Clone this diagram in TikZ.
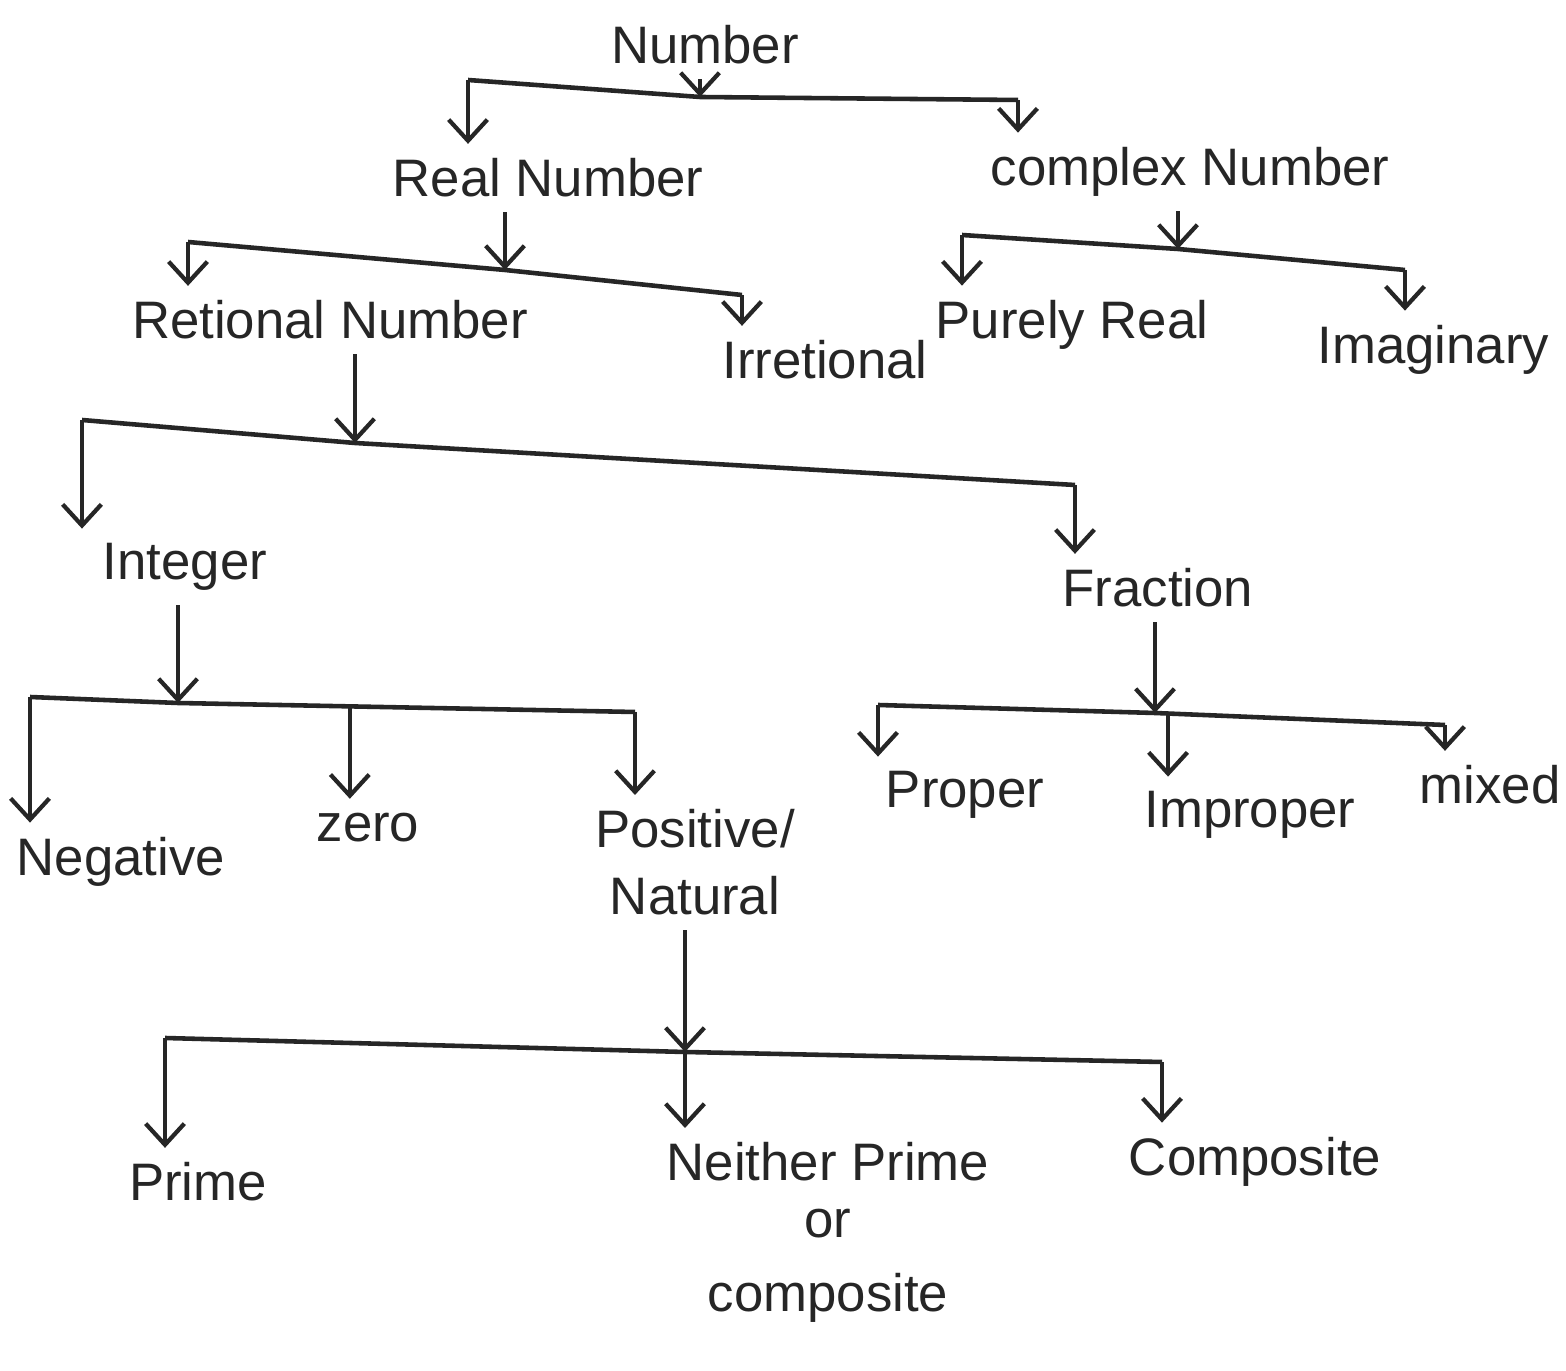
\documentclass[tikz,border=0pt]{standalone}
\usepackage{fontspec}
\setmainfont{Liberation Sans}
\usetikzlibrary{arrows.meta,calc}
\begin{document}
\begin{tikzpicture}[x=0.01cm,y=-0.01cm,
  lbl/.style={font=\fontsize{15}{19}\selectfont, text=black!85, align=center, inner sep=4pt},
  conn/.style={line width=1.3pt, draw=black!85},
  arr/.style={conn, -{Straight Barb[length=6pt,width=11pt,line width=1.2pt]}}]
\useasboundingbox[fill=white] (0,0) rectangle (1566,1371);

% ---------- nodes ----------
\node[lbl] (num) at (705,45) {Number};
\node[lbl] (real) at (548,178) {Real Number};
\node[lbl] (cplx) at (1190,172) {complex Number};
\node[lbl] (rat) at (330,320) {Retional Number};
\node[lbl] (irr) at (825,360) {Irretional};
\node[lbl] (pure) at (1072,325) {Purely Real};
\node[lbl, anchor=east] (imag) at (1564,350) {Imaginary};
\node[lbl] (int) at (185,567) {Integer};
\node[lbl] (frac) at (1158,588) {Fraction};
\node[lbl, anchor=west] (neg) at (2,862) {Negative};
\node[lbl] (zero) at (368,828) {zero};
\node[lbl, anchor=north] (pos) at (695,795) {Positive/\\Natural};
\node[lbl] (prop) at (965,795) {Proper};
\node[lbl] (impr) at (1250,815) {Improper};
\node[lbl] (mix) at (1490,785) {mixed};
\node[lbl] (prime) at (198,1182) {Prime};
\node[lbl, anchor=north, font=\fontsize{15}{16}\selectfont] (neit) at (828,1128) {Neither Prime\\or\\[5pt]composite};
\node[lbl] (comp) at (1255,1162) {Composite};

% ---------- bar coordinates ----------
\coordinate (L1) at (468,80);   \coordinate (J1) at (700,97);   \coordinate (R1) at (1018,100);
\coordinate (L2) at (188,242);  \coordinate (J2) at (505,270);  \coordinate (R2) at (742,295);
\coordinate (L3) at (962,235);  \coordinate (J3) at (1178,249); \coordinate (R3) at (1405,270);
\coordinate (L4) at (82,420);   \coordinate (J4) at (355,443);  \coordinate (R4) at (1075,485);
\coordinate (L5) at (30,697);   \coordinate (J5) at (178,703);  \coordinate (R5) at (635,712);
\coordinate (M5) at ($(J5)!0.376!(R5)$);
\coordinate (L6) at (878,705);  \coordinate (J6) at (1155,713); \coordinate (R6) at (1445,725);
\coordinate (M6) at ($(J6)!0.045!(R6)$);
\coordinate (L7) at (165,1038); \coordinate (J7) at (685,1052); \coordinate (R7) at (1162,1062);

% ---------- Number ----------
\draw[arr] (J1 |- num.south) -- (J1);
\draw[conn] (L1) -- (J1) -- (R1);
\draw[arr] (L1) -- (L1 |- real.north);
\draw[arr] (R1) -- (R1 |- cplx.north);

% ---------- Real Number ----------
\draw[arr] (J2 |- real.south) -- (J2);
\draw[conn] (L2) -- (J2) -- (R2);
\draw[arr] (L2) -- (L2 |- rat.north);
\draw[arr] (R2) -- (R2 |- irr.north);

% ---------- Complex Number ----------
\draw[arr] (J3 |- cplx.south) -- (J3);
\draw[conn] (L3) -- (J3) -- (R3);
\draw[arr] (L3) -- (L3 |- pure.north);
\draw[arr] (R3) -- (R3 |- imag.north);

% ---------- Rational Number ----------
\draw[arr] (J4 |- rat.south) -- (J4);
\draw[conn] (L4) -- (J4) -- (R4);
\draw[arr] (L4) -- (L4 |- int.north);
\draw[arr] (R4) -- (R4 |- frac.north);

% ---------- Integer ----------
\draw[arr] (J5 |- int.south) -- (J5);
\draw[conn] (L5) -- (J5) -- (R5);
\draw[arr] (L5) -- (L5 |- neg.north);
\draw[arr] (M5) -- (M5 |- zero.north);
\draw[arr] (R5) -- (R5 |- pos.north);

% ---------- Fraction ----------
\draw[arr] (J6 |- frac.south) -- (J6);
\draw[conn] (L6) -- (J6) -- (R6);
\draw[arr] (L6) -- (L6 |- prop.north);
\draw[arr] (M6) -- (M6 |- impr.north);
\draw[arr] (R6) -- (R6 |- mix.north);

% ---------- Positive / Natural ----------
\draw[arr] (J7 |- pos.south) -- (J7);
\draw[conn] (L7) -- (J7) -- (R7);
\draw[arr] (L7) -- (L7 |- prime.north);
\draw[arr] (J7) -- (J7 |- neit.north);
\draw[arr] (R7) -- (R7 |- comp.north);
\end{tikzpicture}
\end{document}
